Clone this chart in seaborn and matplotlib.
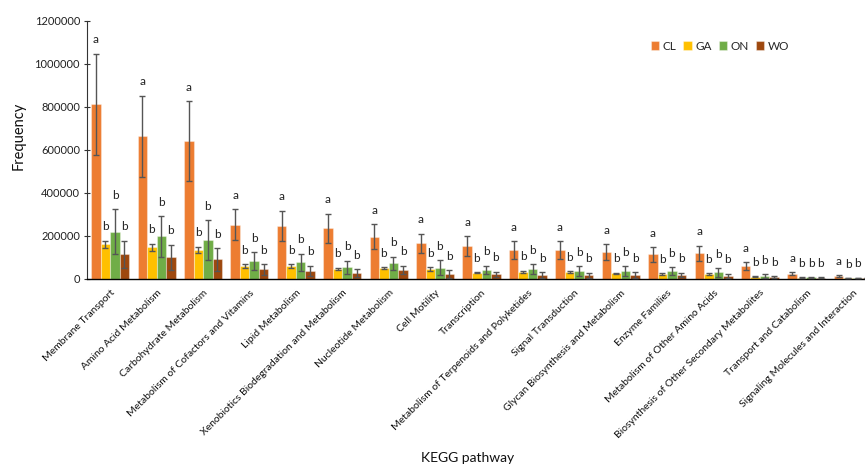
import matplotlib
matplotlib.use("Agg")
import matplotlib.pyplot as plt
import seaborn as sns
import pandas as pd
import numpy as np

categories = ["Membrane Transport", "Amino Acid Metabolism", "Carbohydrate Metabolism",
              "Metabolism of Cofactors and Vitamins", "Lipid Metabolism",
              "Xenobiotics Biodegradation and Metabolism", "Nucleotide Metabolism",
              "Cell Motility", "Transcription", "Metabolism of Terpenoids and Polyketides",
              "Signal Transduction", "Glycan Biosynthesis and Metabolism", "Enzyme Families",
              "Metabolism of Other Amino Acids", "Biosynthesis of Other Secondary Metabolites",
              "Transport and Catabolism", "Signaling Molecules and Interaction"]
groups = ["CL", "GA", "ON", "WO"]
CL = [810000, 662000, 638000, 251000, 244000, 233000, 195000, 163000, 151000, 133000, 133000, 122000, 112000, 117000, 58000, 21000, 12000]
CL_err = [237000, 189000, 186000, 72000, 71000, 68000, 57000, 46000, 46000, 40000, 40000, 37000, 33000, 35000, 17000, 7000, 3000]
GA = [160000, 145000, 133000, 58000, 58000, 44000, 47000, 44000, 27000, 32000, 29000, 24000, 21000, 21000, 9000, 4000, 2000]
GA_err = [16000, 17000, 15000, 8000, 8000, 6000, 5000, 8000, 3000, 5000, 5000, 3000, 3000, 3000, 2000, 1000, 500]
ON = [218000, 196000, 179000, 81000, 75000, 52000, 71000, 50000, 40000, 43000, 35000, 35000, 35000, 29000, 12000, 5000, 2000]
ON_err = [106000, 95000, 92000, 41000, 41000, 31000, 31000, 34000, 20000, 23000, 23000, 22000, 17000, 20000, 8000, 2000, 1000]
WO = [113000, 98000, 89000, 43000, 36000, 24000, 40000, 22000, 19000, 16000, 15000, 16000, 16000, 13000, 7000, 4000, 2000]
WO_err = [63000, 59000, 52000, 25000, 24000, 18000, 20000, 18000, 12000, 14000, 12000, 12000, 11000, 9000, 4000, 1000, 500]
letters = ["a", "b", "b", "b"]
colors = ["#ED7D31", "#FFC000", "#70AD47", "#9E480E"]
yticks = [0, 200000, 400000, 600000, 800000, 1000000, 1200000]

values = [CL, GA, ON, WO]
errors = [CL_err, GA_err, ON_err, WO_err]
df = pd.DataFrame({
    "pathway": np.tile(categories, len(groups)),
    "group": np.repeat(groups, len(categories)),
    "freq": np.concatenate(values),
})

sns.set_style("white")
plt.rcParams['font.family'] = ['Lato', 'DejaVu Sans']

fig = plt.figure(figsize=(8.65, 4.66), dpi=100)
ax = fig.add_axes([87/865, 187.5/466, 789/865, 257.8/466])

sns.barplot(data=df, x="pathway", y="freq", hue="group", order=categories,
            hue_order=groups, palette=colors, width=0.82, errorbar=None,
            edgecolor=(1, 1, 1, 0.35), linewidth=0.8, ax=ax, saturation=1)

for cont, err, lab in zip(ax.containers, errors, letters):
    xs = [p.get_x() + p.get_width() / 2 for p in cont.patches]
    hs = [p.get_height() for p in cont.patches]
    ax.errorbar(xs, hs, yerr=err, fmt="none", ecolor="#555555", elinewidth=1.0,
                capsize=2.2, capthick=1.0, zorder=5)
    for x, h, e in zip(xs, hs, err):
        ax.annotate(lab, (x, h + e), xytext=(0, 10), textcoords="offset points",
                    ha="center", va="center", fontsize=8.5, color="#222222")

ax.set_xlim(-0.5, len(categories) - 0.5)
ax.set_ylim(0, 1200000)
ax.set_yticks(yticks)
ax.set_yticklabels([str(v) for v in yticks], fontsize=8, color="#222222")
ax.set_xticks(range(len(categories)))
ax.set_xticklabels(categories, rotation=45, ha="right", rotation_mode="anchor",
                   fontsize=7.5, color="#111111")
ax.tick_params(axis="x", which="major", length=0, pad=7)
ax.set_xticks(np.arange(-0.5, len(categories) + 0.5, 1), minor=True)
ax.tick_params(axis="x", which="minor", length=4, direction="inout", width=1, color="black")
ax.tick_params(axis="y", length=4, direction="inout", width=0.8, color="#333333", left=True, pad=3)

for s in ["top", "right"]:
    ax.spines[s].set_visible(False)
ax.spines["left"].set_color("#333333")
ax.spines["bottom"].set_color("black")
ax.spines["left"].set_linewidth(0.8)
ax.spines["bottom"].set_linewidth(1.0)

ax.set_ylabel("Frequency", fontsize=10.5, color="#111111")
ax.yaxis.set_label_coords((26 - 87) / 789, (278.5 - 136) / 257.8)
ax.set_xlabel("")
fig.text(468/865, 1 - 458/466, "KEGG pathway", ha="center", va="center", fontsize=10, color="#111111")

leg = ax.legend(loc="center", bbox_to_anchor=(720/865, 1 - 46/466), bbox_transform=fig.transFigure,
                ncol=4, frameon=False, fontsize=8.5, handlelength=0.7, handleheight=0.7,
                handletextpad=0.3, columnspacing=0.6, borderpad=0)

fig.savefig("out.png", dpi=100)
